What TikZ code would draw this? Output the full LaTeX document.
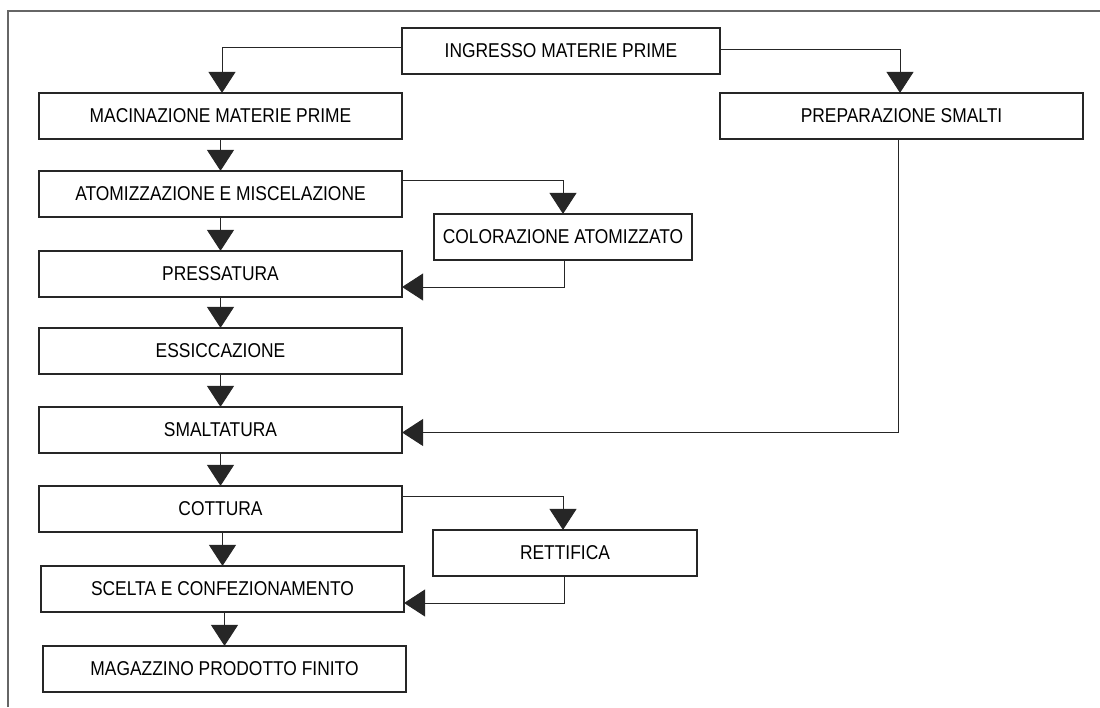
\documentclass[tikz,border=0pt]{standalone}
\usepackage{fontspec}
\setmainfont{Liberation Sans}[FakeStretch=0.87]
\usetikzlibrary{arrows.meta, positioning}

\begin{document}
\begin{tikzpicture}[x=1pt, y=-1pt,
    fase/.style={draw=black!85, line width=1.2pt, minimum width=363pt, minimum height=46pt,
                 inner sep=0pt, font=\fontsize{20}{24}\selectfont},
    flusso/.style={draw=black!85, line width=1pt, -{Triangle[length=21pt, width=27pt]}, shorten >=-0.5pt},
    cornice/.style={draw=black!60, line width=1.5pt}]
    \useasboundingbox (0,0) rectangle (1100,707);
    \draw[cornice] (8,707) -- (8,11) -- (1100,11);

    \node[fase, minimum width=318pt] (ingr) at (561,51) {INGRESSO MATERIE PRIME};
    \node[fase] (mac) at (220.5,116) {MACINAZIONE MATERIE PRIME};
    \node[fase] (prep) at (901.5,116) {PREPARAZIONE SMALTI};
    \node[fase] (atom) at (220.5,194) {ATOMIZZAZIONE E MISCELAZIONE};
    \node[fase, minimum width=258pt] (color) at (563,237) {COLORAZIONE ATOMIZZATO};
    \node[fase] (press) at (220.5,274) {PRESSATURA};
    \node[fase] (essic) at (220.5,351) {ESSICCAZIONE};
    \node[fase] (smalt) at (220.5,430) {SMALTATURA};
    \node[fase] (cott) at (220.5,509) {COTTURA};
    \node[fase, minimum width=264pt] (rett) at (565,553) {RETTIFICA};
    \node[fase] (scelta) at (222.5,589) {SCELTA E CONFEZIONAMENTO};
    \node[fase] (magaz) at (224.5,669) {MAGAZZINO PRODOTTO FINITO};

    % linea principale
    \draw[flusso] (mac.south) -- (atom.north);
    \draw[flusso] (atom.south) -- (press.north);
    \draw[flusso] (press.south) -- (essic.north);
    \draw[flusso] (essic.south) -- (smalt.north);
    \draw[flusso] (smalt.south) -- (cott.north);
    \draw[flusso] ([xshift=2pt]cott.south) -- ([xshift=2pt]cott.south |- scelta.north);
    \draw[flusso] ([xshift=2pt]scelta.south) -- ([xshift=2pt]scelta.south |- magaz.north);

    % diramazioni
    \draw[flusso] ([yshift=4pt]ingr.west) -| ([xshift=1.5pt]mac.north);
    \draw[flusso] ([yshift=2pt]ingr.east) -| ([xshift=-1.5pt]prep.north);
    \draw[flusso] ([xshift=-3.5pt]prep.south) |- ([yshift=-2.5pt]smalt.east);
    \draw[flusso] ([yshift=14pt]atom.east) -| (color.north);
    \draw[flusso] ([xshift=1pt]color.south) |- ([yshift=-13pt]press.east);
    \draw[flusso] ([yshift=13pt]cott.east) -| ([xshift=-2pt]rett.north);
    \draw[flusso] ([xshift=-1pt]rett.south) |- ([yshift=-14pt]scelta.east);
\end{tikzpicture}
\end{document}
